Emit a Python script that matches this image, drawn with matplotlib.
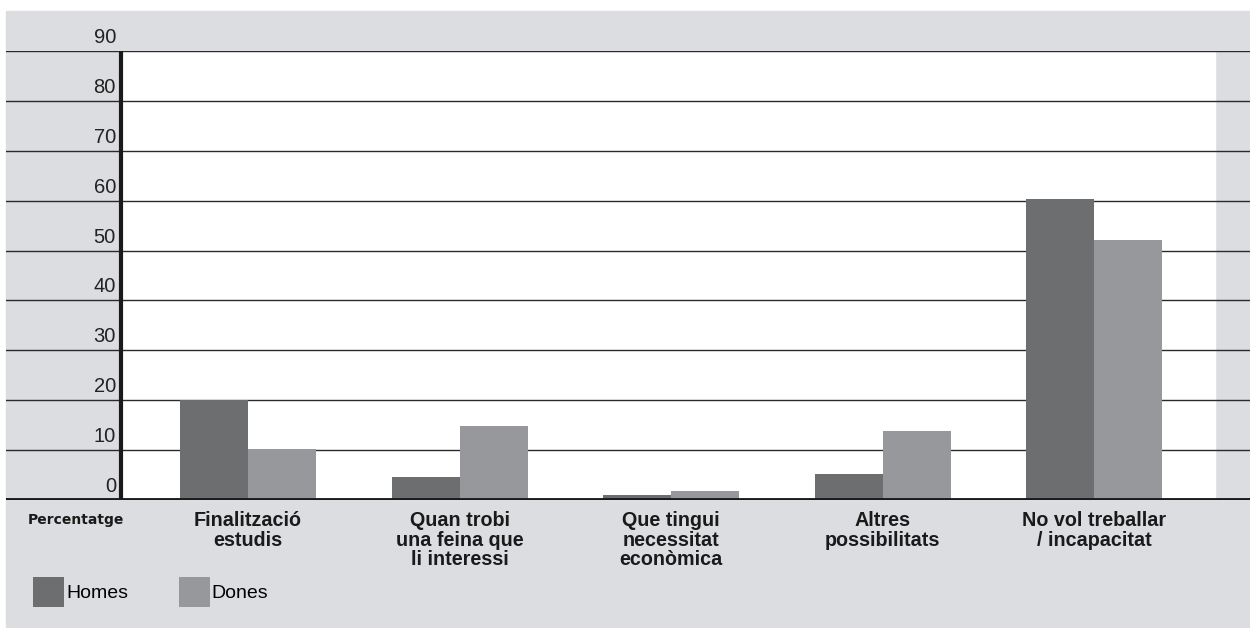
import matplotlib
matplotlib.use('Agg')
import matplotlib.pyplot as plt
from matplotlib.patches import Rectangle

#Data
categories = ['Finalització\nestudis', 'Quan trobi\nuna feina que\nli interessi',
              'Que tingui\nnecessitat\neconòmica', 'Altres\npossibilitats',
              'No vol treballar\n/ incapacitat']
homes = [20.0, 4.6, 1.0, 5.2, 60.4]
dones = [10.2, 14.8, 1.8, 13.8, 52.2]
yticks = [0, 10, 20, 30, 40, 50, 60, 70, 80, 90]

#Style
plt.rcParams['font.family'] = ['Liberation Sans', 'DejaVu Sans']
c_homes = '#6d6e70'
c_dones = '#97989b'
c_bg = '#dcdde0'

W, H = 1250, 628
fig = plt.figure(figsize=(W / 100, H / 100), dpi=100, facecolor='white')
fig.patches.append(Rectangle((6 / W, 0), 1 - 6 / W, (H - 11) / H,
                             transform=fig.transFigure, color=c_bg, zorder=-10))

ax = fig.add_axes([6 / W, 128 / H, 1244 / W, 449 / H])
ax.set_facecolor('none')
ax.set_ylim(0, 90)
# pixel -> data helpers for x (group spacing 211.5 px, first group at 248 px)
px = lambda p: (p - 248) / 211.5
ax.set_xlim(px(6), px(1250))
for s in ax.spines.values():
    s.set_visible(False)
ax.set_xticks([])
ax.set_yticks([])

# white plotting area
ax.axvspan(px(121), px(1215), color='white', zorder=0)

# gridlines
for v in yticks[1:]:
    ax.axhline(v, color='#2a2a2a', lw=1.0, zorder=1)

# bars
w = 68 / 211.5
x = list(range(len(categories)))
b1 = ax.bar([i - w / 2 for i in x], homes, width=w, color=c_homes, zorder=2, label='Homes')
b2 = ax.bar([i + w / 2 for i in x], dones, width=w, color=c_dones, zorder=2, label='Dones')

# axis lines
ax.axhline(0, color='#1a1a1a', lw=3.5, zorder=3)
ax.plot([px(121), px(121)], [0, 90], color='#1a1a1a', lw=3, zorder=3, solid_capstyle='butt')

# y labels
for v in yticks:
    ax.text(px(116), v + 0.8, str(v), ha='right', va='bottom', fontsize=14.5,
            color='#222222', clip_on=False)

# category labels
for i, lab in enumerate(categories):
    ax.text(i, -2.3, lab, ha='center', va='top', fontsize=14.2, fontweight='bold',
            color='#1a1a1a', linespacing=1.02, clip_on=False)

ax.text(px(76), -2.6, 'Percentatge', ha='center', va='top', fontsize=10,
        fontweight='bold', family='DejaVu Sans', color='#1a1a1a', clip_on=False)

# legend
fig.legend(handles=[b1, b2], labels=['Homes', 'Dones'], loc='upper left',
           bbox_to_anchor=(33 / W, (H - 577) / H), ncol=2, frameon=False,
           fontsize=14, handlelength=1.6, handleheight=2.0, handletextpad=0.1,
           columnspacing=2.6, borderpad=0, borderaxespad=0)

fig.savefig('out.png', dpi=100, facecolor='white')
